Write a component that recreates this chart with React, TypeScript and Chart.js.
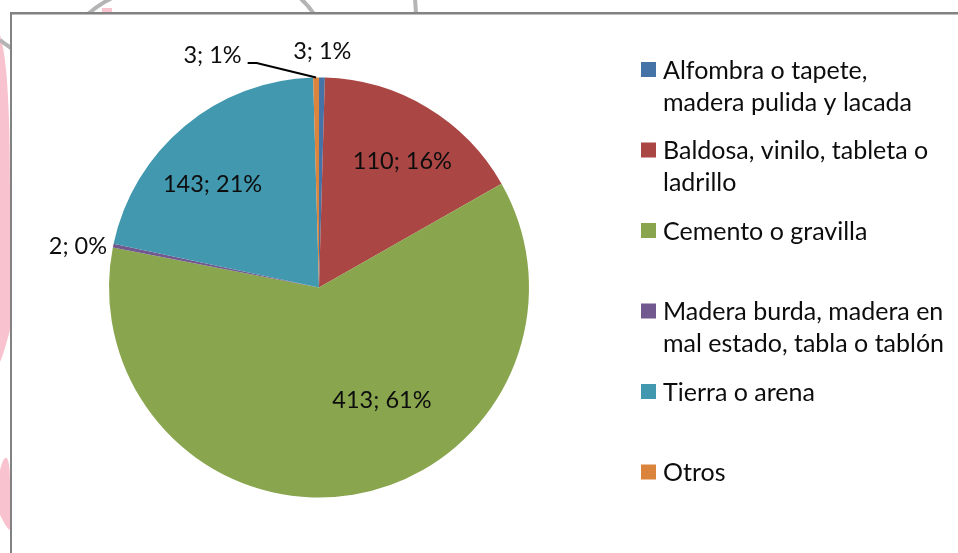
import React, { useEffect, useRef } from "react";
import { Chart, registerables } from "chart.js";

Chart.register(...registerables);

// ---- data ----
const categories = [
  "Alfombra o tapete,\nmadera pulida y lacada",
  "Baldosa, vinilo, tableta o\nladrillo",
  "Cemento o gravilla",
  "Madera burda, madera en\nmal estado, tabla o tablón",
  "Tierra o arena",
  "Otros",
];
const counts = [3, 110, 413, 2, 143, 3];
const percentLabels = ["1%", "16%", "61%", "0%", "21%", "1%"];

// ---- style ----
const colors = ["#4572A7", "#AA4643", "#89A54E", "#71588F", "#4198AF", "#DB843D"];
const FONT = "Lato, 'Open Sans', sans-serif";
const LEGEND_FONT_SIZE = 25;
const LABEL_FONT_SIZE = 23.5;

// label placement relative to each slice (fraction along slice, radius factor, angle shift in degrees)
const labelPlacement = [
  { t: 0.5, rf: 1.124, dA: 0, leader: false },
  { t: 0.544, rf: 0.718, dA: 0, leader: false },
  { t: 0.41, rf: 0.614, dA: 0, leader: false },
  { t: 0.5, rf: 1.165, dA: -1.7, leader: false },
  { t: 0.418, rf: 0.704, dA: 0, leader: false },
  { t: 0.5, rf: 1.218, dA: -23.8, leader: true },
];

const backgroundPlugin = {
  id: "bgDecor",
  beforeDraw(chart: any) {
    const ctx = chart.ctx as CanvasRenderingContext2D;
    const W = chart.width;
    const H = chart.height;
    ctx.save();
    ctx.fillStyle = "#ffffff";
    ctx.fillRect(0, 0, W, H);

    // faint watermark decorations outside the frame
    ctx.fillStyle = "#F8C3CE";
    ctx.beginPath();
    ctx.moveTo(0, 35);
    ctx.bezierCurveTo(8, 60, 10, 120, 10, 200);
    ctx.lineTo(10, 330);
    ctx.bezierCurveTo(6, 345, 3, 355, 0, 362);
    ctx.closePath();
    ctx.fill();
    ctx.beginPath();
    ctx.moveTo(0, 470);
    ctx.bezierCurveTo(5, 450, 10, 455, 10, 480);
    ctx.lineTo(10, 530);
    ctx.bezierCurveTo(6, 528, 3, 520, 0, 515);
    ctx.closePath();
    ctx.fill();
    ctx.fillRect(102, 8, 10, 5);

    ctx.strokeStyle = "#B4B4B4";
    ctx.lineWidth = 4;
    ctx.beginPath();
    ctx.moveTo(88, 14);
    ctx.quadraticCurveTo(98, 5, 112, -2);
    ctx.stroke();
    ctx.beginPath();
    ctx.moveTo(300, -2);
    ctx.quadraticCurveTo(308, 5, 314, 14);
    ctx.stroke();
    ctx.beginPath();
    ctx.moveTo(415, -2);
    ctx.lineTo(416, 14);
    ctx.stroke();
    ctx.beginPath();
    ctx.moveTo(0, 40);
    ctx.quadraticCurveTo(5, 44, 11, 48);
    ctx.stroke();

    // frame
    ctx.fillStyle = "#ffffff";
    ctx.fillRect(11, 13, W - 11, H - 13);
    ctx.fillStyle = "#828282";
    ctx.fillRect(10, 12, W - 10, 2);
    ctx.fillRect(10, 12, 2, H - 12);
    ctx.fillStyle = "#BDBDBD";
    ctx.fillRect(12, 14, W - 12, 1);
    ctx.restore();
  },
};

const labelsPlugin = {
  id: "sliceLabels",
  afterDatasetsDraw(chart: any) {
    const ctx = chart.ctx as CanvasRenderingContext2D;
    const meta = chart.getDatasetMeta(0);
    const data = chart.data.datasets[0].data as number[];
    ctx.save();
    ctx.font = `${LABEL_FONT_SIZE}px ${FONT}`;
    ctx.fillStyle = "#0d0d0d";
    ctx.textAlign = "center";
    ctx.textBaseline = "middle";
    meta.data.forEach((arc: any, i: number) => {
      const p = arc.getProps(["x", "y", "startAngle", "endAngle", "outerRadius"], true);
      const pl = labelPlacement[i];
      const a = p.startAngle + pl.t * (p.endAngle - p.startAngle) + (pl.dA * Math.PI) / 180;
      const lx = p.x + Math.cos(a) * pl.rf * p.outerRadius;
      const ly = p.y + Math.sin(a) * pl.rf * p.outerRadius;
      const text = `${data[i]}; ${percentLabels[i]}`;
      ctx.fillText(text, lx, ly);
      if (pl.leader) {
        const w = ctx.measureText(text).width;
        const mid = (p.startAngle + p.endAngle) / 2;
        const ex = p.x + Math.cos(mid) * p.outerRadius;
        const ey = p.y + Math.sin(mid) * p.outerRadius;
        const sx = lx + w / 2 + 6;
        const sy = ly + 8;
        ctx.strokeStyle = "#000000";
        ctx.lineWidth = 2;
        ctx.beginPath();
        ctx.moveTo(sx, sy);
        ctx.lineTo(sx + 9, sy);
        ctx.lineTo(ex, ey);
        ctx.stroke();
      }
    });
    ctx.restore();
  },
};

const legendPlugin = {
  id: "sideLegend",
  afterDraw(chart: any) {
    const ctx = chart.ctx as CanvasRenderingContext2D;
    const labels = chart.data.labels as string[];
    const bg = chart.data.datasets[0].backgroundColor as string[];
    const x0 = 641;
    const y0 = 69.5;
    const step = 80.5;
    const box = 15;
    const textX = 663;
    const lineH = 32;
    ctx.save();
    ctx.font = `${LEGEND_FONT_SIZE}px ${FONT}`;
    ctx.textAlign = "left";
    ctx.textBaseline = "middle";
    labels.forEach((lab, i) => {
      const cy = y0 + i * step;
      ctx.fillStyle = bg[i];
      ctx.fillRect(x0, cy - box / 2, box, box);
      ctx.fillStyle = "#0d0d0d";
      lab.split("\n").forEach((line, j) => {
        ctx.fillText(line, textX, cy + 1 + j * lineH);
      });
    });
    ctx.restore();
  },
};

export default function App() {
  const ref = useRef<HTMLCanvasElement | null>(null);
  useEffect(() => {
    if (!ref.current) return;
    const chart = new Chart(ref.current, {
      type: "pie",
      data: {
        labels: categories,
        datasets: [
          {
            data: counts,
            backgroundColor: colors,
            borderWidth: 0,
          },
        ],
      },
      options: {
        responsive: false,
        animation: false,
        devicePixelRatio: 1,
        layout: { padding: { left: 109, right: 429, top: 77.5, bottom: 55.5 } },
        plugins: {
          legend: { display: false },
          tooltip: { enabled: false },
        },
      },
      plugins: [backgroundPlugin, labelsPlugin, legendPlugin],
    } as any);
    return () => chart.destroy();
  }, []);
  return (
    <div style={{ position: "fixed", left: 0, top: 0, width: 958, height: 553, background: "#fff" }}>
      <canvas ref={ref} width={958} height={553} style={{ display: "block", width: 958, height: 553 }} />
    </div>
  );
}
